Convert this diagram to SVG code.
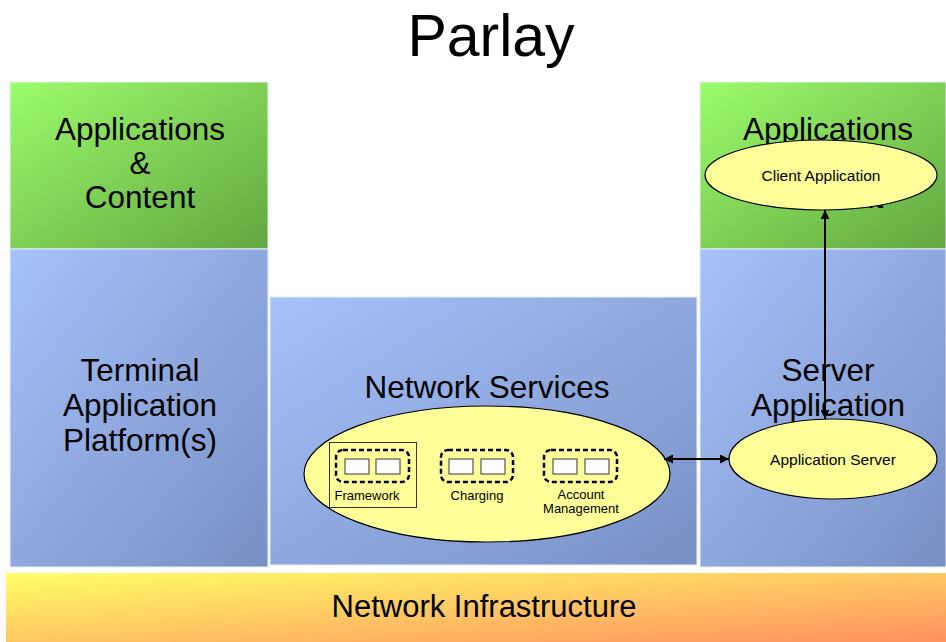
<svg xmlns="http://www.w3.org/2000/svg" width="946" height="642" viewBox="0 0 946 642">
<defs>
<linearGradient id="gGreen" x1="0" y1="0" x2="1" y2="1"><stop offset="0" stop-color="#9cfc6c"/><stop offset="1" stop-color="#62a640"/></linearGradient>
<linearGradient id="gBlue" x1="0" y1="0" x2="1" y2="1"><stop offset="0" stop-color="#a6c2fb"/><stop offset="1" stop-color="#7890c4"/></linearGradient>
<linearGradient id="gOrange" x1="0" y1="0" x2="1" y2="1"><stop offset="0" stop-color="#ffff66"/><stop offset="1" stop-color="#ff9060"/></linearGradient>
<marker id="arr" viewBox="0 0 10 10" refX="10" refY="5" markerWidth="9" markerHeight="9" orient="auto-start-reverse" markerUnits="userSpaceOnUse"><path d="M0,0 L10,5 L0,10 z" fill="#000"/></marker>
<style>
text{font-family:"Liberation Sans",Arial,sans-serif;fill:#000;text-anchor:middle}
.big{font-size:31.5px}
.sm{font-size:15.5px}
.xs{font-size:13px}
.ell{fill:#ffff99;stroke:#000;stroke-width:1.2}
.dash{fill:none;stroke:#000;stroke-width:2.5;stroke-dasharray:5,3}
.cell{fill:#fff;stroke:#555;stroke-width:1.2}
.box{stroke:#e8eef8;stroke-width:1}
.conn{stroke:#000;stroke-width:2;fill:none}
</style>
</defs>
<rect width="946" height="642" fill="#fff"/>
<text x="491" y="56" style="font-size:59px">Parlay</text>

<g id="left-apps"><rect class="box" x="10" y="82" width="258" height="167" fill="url(#gGreen)"/>
<text class="big" x="140" y="140">Applications</text><text class="big" x="140" y="174">&amp;</text><text class="big" x="140" y="208">Content</text></g>
<g id="left-platform"><rect class="box" x="10" y="249" width="258" height="318" fill="url(#gBlue)"/>
<text class="big" x="140" y="381">Terminal</text><text class="big" x="140" y="416">Application</text><text class="big" x="140" y="451">Platform(s)</text></g>

<g id="network-services"><rect class="box" x="270" y="297" width="427" height="268" fill="url(#gBlue)"/>
<text class="big" x="487" y="398">Network Services</text>
<ellipse class="ell" cx="487" cy="474" rx="183" ry="68"/>
<g id="framework"><rect x="329.5" y="442.5" width="87" height="65" fill="none" stroke="#333" stroke-width="1"/>
<rect class="dash" x="336" y="450" width="73" height="32" rx="7"/>
<rect class="cell" x="345" y="459" width="24" height="15"/><rect class="cell" x="376" y="459" width="24" height="15"/>
<text class="xs" x="367" y="500">Framework</text></g>
<g id="charging"><rect class="dash" x="441" y="450" width="72" height="32" rx="7"/>
<rect class="cell" x="449" y="459" width="24" height="15"/><rect class="cell" x="481" y="459" width="24" height="15"/>
<text class="xs" x="477" y="500">Charging</text></g>
<g id="account"><rect class="dash" x="544" y="450" width="73" height="32" rx="7"/>
<rect class="cell" x="553" y="459" width="24" height="15"/><rect class="cell" x="585" y="459" width="24" height="15"/>
<text class="xs" x="581" y="499">Account</text><text class="xs" x="581" y="513">Management</text></g>
</g>

<g id="right-apps"><rect class="box" x="700" y="82" width="246" height="167" fill="url(#gGreen)"/>
<text class="big" x="828" y="140">Applications</text><text class="big" x="828" y="174">&amp;</text><text class="big" x="828" y="208">Content</text>
<ellipse class="ell" cx="821" cy="175" rx="116" ry="35"/>
<text class="sm" x="821" y="181">Client Application</text></g>
<g id="right-platform"><rect class="box" x="700" y="249" width="246" height="318" fill="url(#gBlue)"/>
<text class="big" x="828" y="381">Server</text><text class="big" x="828" y="416">Application</text><text class="big" x="828" y="451">Platform</text>
<ellipse class="ell" cx="833" cy="459" rx="104" ry="40"/>
<text class="sm" x="833" y="465">Application Server</text></g>

<g id="network-infrastructure"><rect x="6" y="573" width="940" height="69" fill="url(#gOrange)"/>
<text x="484" y="617" style="font-size:31px">Network Infrastructure</text></g>

<g id="connectors">
<line class="conn" x1="825" y1="419" x2="825" y2="210" marker-start="url(#arr)" marker-end="url(#arr)"/>
<line class="conn" x1="664" y1="459" x2="729" y2="459" marker-start="url(#arr)" marker-end="url(#arr)"/>
</g>
</svg>
